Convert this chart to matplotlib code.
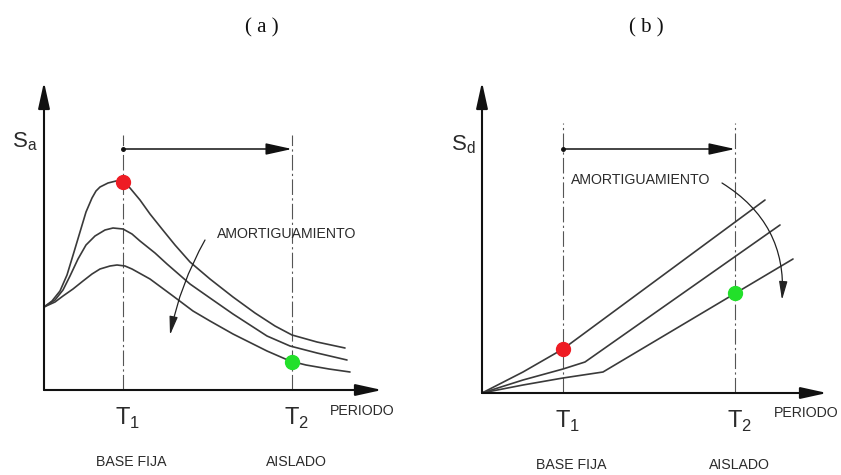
import matplotlib
matplotlib.use("Agg")
import matplotlib.pyplot as plt
import numpy as np

plt.rcParams['font.family'] = ['Liberation Sans', 'DejaVu Sans']
plt.rcParams['mathtext.fontset'] = 'custom'
plt.rcParams['mathtext.rm'] = 'Liberation Sans'

# ---- panel (a): spectral acceleration ----
t_top_a = [0, 0.08, 0.16, 0.23, 0.30, 0.36, 0.42, 0.48, 0.52, 0.56, 0.64, 0.72, 0.79, 0.86,
           0.96, 1.06, 1.18, 1.31, 1.46, 1.66, 1.89, 2.11, 2.31, 2.48, 2.73, 3.01]
sa_top = [0.83, 0.89, 0.99, 1.15, 1.38, 1.58, 1.78, 1.92, 1.99, 2.03, 2.07, 2.09, 2.08, 2.02,
          1.90, 1.76, 1.61, 1.45, 1.28, 1.11, 0.93, 0.77, 0.64, 0.55, 0.48, 0.42]
t_mid_a = [0, 0.11, 0.19, 0.26, 0.34, 0.42, 0.51, 0.61, 0.69, 0.79, 0.88, 0.96, 1.11, 1.23,
           1.46, 1.66, 1.89, 2.23, 2.46, 2.73, 3.03]
sa_mid = [0.83, 0.90, 1.00, 1.14, 1.31, 1.45, 1.54, 1.60, 1.62, 1.61, 1.56, 1.49, 1.37, 1.26,
          1.06, 0.92, 0.76, 0.54, 0.44, 0.37, 0.30]
t_bot_a = [0, 0.11, 0.19, 0.29, 0.39, 0.48, 0.56, 0.66, 0.73, 0.81, 0.88, 1.06, 1.29, 1.49,
           1.66, 1.89, 2.23, 2.46, 2.62, 2.85, 3.06]
sa_bot = [0.83, 0.88, 0.94, 1.01, 1.09, 1.16, 1.21, 1.24, 1.25, 1.24, 1.21, 1.11, 0.94, 0.79,
          0.69, 0.56, 0.39, 0.29, 0.25, 0.21, 0.18]

# ---- panel (b): spectral displacement ----
t_top_b = [0, 0.41, 0.81, 2.83]
sd_top = [0, 0.21, 0.44, 1.93]
t_mid_b = [0, 0.41, 0.81, 1.03, 2.98]
sd_mid = [0, 0.13, 0.24, 0.31, 1.68]
t_bot_b = [0, 0.41, 0.81, 1.21, 3.11]
sd_bot = [0, 0.08, 0.15, 0.21, 1.34]

periods_a = [0.79, 2.48]   # T1, T2
periods_b = [0.81, 2.53]
red_a, green_a = 2.08, 0.28
red_b, green_b = 0.44, 1.00

LINE = '#3a3a3a'
TXT = '#2b2b2b'
LBL = 10.2

fig = plt.figure(figsize=(8.41, 4.75), dpi=100)
W, H = 841.0, 475.0


def make_axes(x0, y0, x1, y1):
    # pixel box (origin corner x0,y0 ; arrow tips x1,y1) -> axes with 100 px per unit
    ax = fig.add_axes([x0 / W, (H - y0) / H, (x1 - x0) / W, (y0 - y1) / H])
    ax.set_xlim(0, (x1 - x0) / 100.0)
    ax.set_ylim(0, (y0 - y1) / 100.0)
    ax.axis('off')
    return ax


def arrow(ax, start, end, lw=1.5):
    ax.annotate('', xy=end, xytext=start,
                arrowprops=dict(arrowstyle='-|>,head_length=1.0,head_width=0.22',
                                mutation_scale=16, color='#111111', lw=lw,
                                shrinkA=0, shrinkB=0),
                annotation_clip=False)


def panel(ax, curves, periods, top_line, arrow_y, red, green, ylabel, sub):
    xmax, ymax = ax.get_xlim()[1], ax.get_ylim()[1]
    arrow(ax, (0, 0), (xmax, 0))
    arrow(ax, (0, 0), (0, ymax))
    for T in periods:
        ax.plot([T, T], [0, top_line], color='#555555', lw=0.8,
                linestyle=(0, (14, 3, 2, 3)), clip_on=False)
    for tx, ty in curves:
        ax.plot(tx, ty, color=LINE, lw=1.2, clip_on=False,
                solid_capstyle='round', solid_joinstyle='round')
    arrow(ax, (periods[0], arrow_y), (periods[1], arrow_y), lw=1.1)
    ax.plot([periods[0]], [arrow_y], 'o', color='#111111', ms=2.5)
    ax.plot([periods[0]], [red], 'o', color='#ee1c24', ms=10, zorder=5)
    ax.plot([periods[1]], [green], 'o', color='#22e02a', ms=10, zorder=5)
    ax.text(-0.19, 2.48, ylabel + r'$_\mathregular{' + sub + '}$', fontsize=16,
            color=TXT, ha='center', va='center')
    for T, num in zip(periods, ['1', '2']):
        ax.text(T + 0.05, -0.28, r'T$_\mathregular{' + num + '}$', fontsize=17,
                color=TXT, ha='center', va='center')
    ax.text(periods[0] + 0.08, -0.72, 'BASE FIJA', fontsize=LBL, color=TXT,
            ha='center', va='center')
    ax.text(periods[1] + 0.04, -0.72, 'AISLADO', fontsize=LBL, color=TXT,
            ha='center', va='center')


ax_a = make_axes(44, 390, 382, 82)
panel(ax_a, [(t_top_a, sa_top), (t_mid_a, sa_mid), (t_bot_a, sa_bot)],
      periods_a, 2.55, 2.41, red_a, green_a, 'S', 'a')
ax_a.text(3.18, -0.21, 'PERIODO', fontsize=LBL, color=TXT, ha='center', va='center')
ax_a.text(2.43, 1.56, 'AMORTIGUAMIENTO', fontsize=LBL, color=TXT, ha='center', va='center')
ax_a.annotate('', xy=(1.26, 0.55), xytext=(1.61, 1.50),
              arrowprops=dict(arrowstyle='-|>,head_length=0.8,head_width=0.18',
                              mutation_scale=14, color='#222222', lw=0.9,
                              shrinkA=0, shrinkB=0, connectionstyle='arc3,rad=0.08'))

ax_b = make_axes(482, 393, 827, 82)
panel(ax_b, [(t_top_b, sd_top), (t_mid_b, sd_mid), (t_bot_b, sd_bot)],
      periods_b, 2.70, 2.44, red_b, green_b, 'S', 'd')
ax_b.text(3.24, -0.20, 'PERIODO', fontsize=LBL, color=TXT, ha='center', va='center')
ax_b.text(1.59, 2.13, 'AMORTIGUAMIENTO', fontsize=LBL, color=TXT, ha='center', va='center')
ax_b.annotate('', xy=(3.00, 0.93), xytext=(2.40, 2.10),
              arrowprops=dict(arrowstyle='-|>,head_length=0.8,head_width=0.18',
                              mutation_scale=14, color='#222222', lw=0.9,
                              shrinkA=0, shrinkB=0, connectionstyle='arc3,rad=-0.3'))

fig.text(262 / W, 1 - 28 / H, '( a )', family=['Liberation Serif', 'DejaVu Serif'],
         fontsize=15, ha='center', va='center', color='#111111')
fig.text(646 / W, 1 - 28 / H, '( b )', family=['Liberation Serif', 'DejaVu Serif'],
         fontsize=15, ha='center', va='center', color='#111111')

fig.savefig('out.png', dpi=100)
